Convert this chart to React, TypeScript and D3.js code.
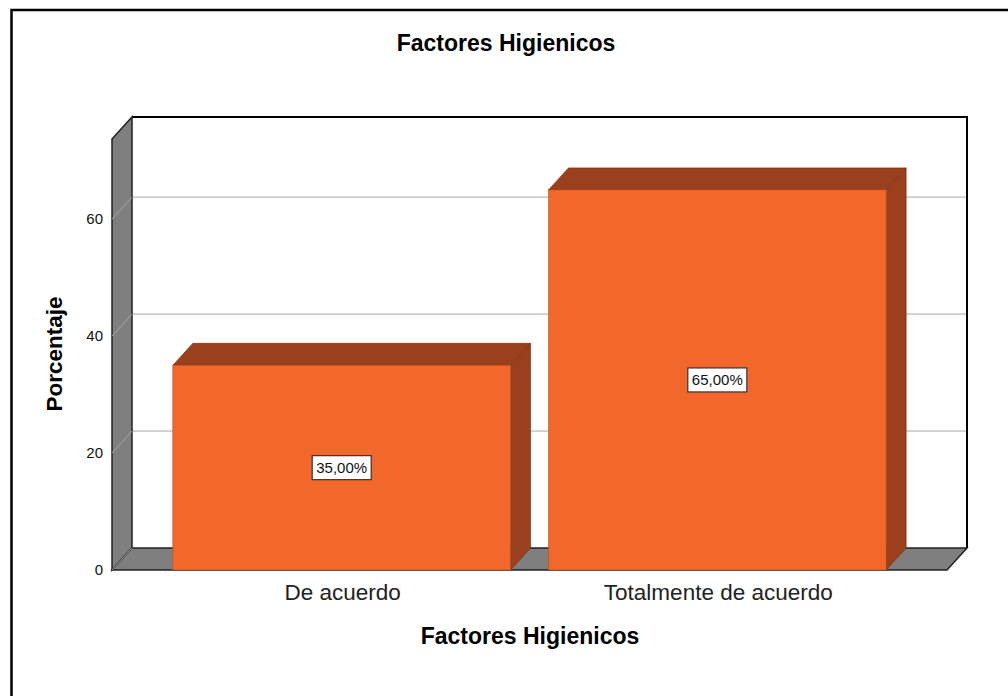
import React from "react";
import { scaleBand, scaleLinear } from "d3";

const categories = ["De acuerdo", "Totalmente de acuerdo"];
const percentages = [35, 65];
const valueLabels = ["35,00%", "65,00%"];
const yTicks = [0, 20, 40, 60];
const gridTicks = [20, 40, 60];

const chartTitle = "Factores Higienicos";
const xTitle = "Factores Higienicos";
const yTitle = "Porcentaje";

const W = 1008;
const H = 696;
const DX = 20;
const DY = 22;
const left = 112;
const right = 947;
const bottom = 570;
const top = 139;
const yMax = 73.7;

const font = "'Liberation Sans', Arial, sans-serif";
const barFront = "#f2672c";
const barDark = "#9b401c";
const wallGray = "#7f7f7f";
const gridGray = "#a8a8a8";

const App = () => {
  const x = scaleBand<string>()
    .domain(categories)
    .range([left, right])
    .paddingInner(0.101)
    .paddingOuter(0.162);
  const y = scaleLinear().domain([0, yMax]).range([bottom, top]);

  const pts = (p: number[][]) => p.map((d) => d.join(",")).join(" ");

  return (
    <div style={{ position: "absolute", left: 0, top: 0 }}>
      <svg width={W} height={H} style={{ display: "block", fontFamily: font }}>
        <rect x={0} y={0} width={W} height={H} fill="#fff" />
        <rect x={11.5} y={10} width={1020} height={720} fill="none" stroke="#000" strokeWidth={2.5} />

        <text x={506} y={51} textAnchor="middle" fontSize={23} fontWeight="bold">
          {chartTitle}
        </text>

        {/* back wall */}
        <rect x={left + DX} y={top - DY} width={right - left} height={bottom - top} fill="#fff" />
        {gridTicks.map((t) => (
          <line key={t} x1={left + DX} x2={right + DX} y1={y(t) - DY} y2={y(t) - DY} stroke={gridGray} strokeWidth={1} />
        ))}
        <polyline
          points={pts([[left + DX, top - DY], [right + DX, top - DY], [right + DX, bottom - DY]])}
          fill="none"
          stroke="#000"
          strokeWidth={2}
        />

        {/* left wall */}
        <polygon
          points={pts([[left, top], [left + DX, top - DY], [left + DX, bottom - DY], [left, bottom]])}
          fill={wallGray}
          stroke="#222"
          strokeWidth={1.5}
        />
        {gridTicks.map((t) => (
          <line key={t} x1={left} y1={y(t)} x2={left + DX} y2={y(t) - DY} stroke={gridGray} strokeWidth={1} />
        ))}

        {/* floor */}
        <polygon
          points={pts([[left, bottom], [left + DX, bottom - DY], [right + DX, bottom - DY], [right, bottom]])}
          fill={wallGray}
          stroke="#222"
          strokeWidth={1.5}
        />
        <line x1={left} y1={bottom} x2={left + DX} y2={bottom - DY} stroke={gridGray} strokeWidth={1} />

        {/* bars */}
        {categories.map((c, i) => {
          const x0 = x(c) as number;
          const x1 = x0 + x.bandwidth();
          const yt = y(percentages[i]);
          return (
            <g key={c}>
              <polygon
                points={pts([[x1, yt], [x1 + DX, yt - DY], [x1 + DX, bottom - DY], [x1, bottom]])}
                fill={barDark}
                stroke="#6e2a10"
                strokeWidth={0.6}
              />
              <polygon
                points={pts([[x0, yt], [x0 + DX, yt - DY], [x1 + DX, yt - DY], [x1, yt]])}
                fill={barDark}
                stroke="#6e2a10"
                strokeWidth={0.6}
              />
              <rect x={x0} y={yt} width={x1 - x0} height={bottom - yt} fill={barFront} stroke="#b84a1e" strokeWidth={0.6} />
            </g>
          );
        })}

        {/* value labels */}
        {categories.map((c, i) => {
          const cx = (x(c) as number) + x.bandwidth() / 2;
          const cy = (y(percentages[i]) + bottom) / 2;
          return (
            <g key={c}>
              <rect x={cx - 29.5} y={cy - 12} width={59} height={24} fill="#fff" stroke="#333" strokeWidth={1.2} />
              <text x={cx} y={cy + 5.5} textAnchor="middle" fontSize={15} fill="#111">
                {valueLabels[i]}
              </text>
            </g>
          );
        })}

        {/* y ticks */}
        {yTicks.map((t) => (
          <text key={t} x={103} y={y(t) + 5} textAnchor="end" fontSize={15} fill="#111">
            {t}
          </text>
        ))}

        {/* category labels */}
        {categories.map((c) => (
          <text
            key={c}
            x={(x(c) as number) + x.bandwidth() / 2 + 1}
            y={600}
            textAnchor="middle"
            fontSize={22.5}
            fill="#222"
          >
            {c}
          </text>
        ))}

        <text x={530} y={644} textAnchor="middle" fontSize={23} fontWeight="bold">
          {xTitle}
        </text>
        <text transform="translate(62,354) rotate(-90)" textAnchor="middle" fontSize={22.5} fontWeight="bold">
          {yTitle}
        </text>
      </svg>
    </div>
  );
};

export default App;
